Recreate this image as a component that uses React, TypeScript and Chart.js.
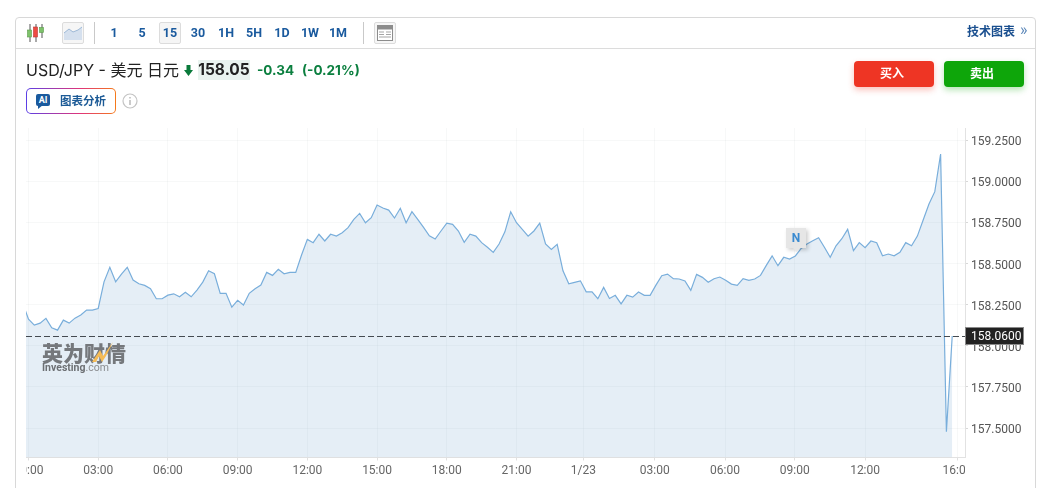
import React, { useEffect, useRef } from "react";
import { Chart, registerables } from "chart.js";

Chart.register(...registerables);

const closes = [
  158.26, 158.162, 158.126, 158.138, 158.167, 158.109, 158.095, 158.156, 158.138, 158.168,
  158.187, 158.217, 158.217, 158.227, 158.389, 158.477, 158.389, 158.436, 158.477, 158.4,
  158.377, 158.367, 158.347, 158.286, 158.286, 158.308, 158.316, 158.298, 158.325, 158.298,
  158.339, 158.387, 158.456, 158.438, 158.319, 158.319, 158.235, 158.276, 158.248, 158.319,
  158.347, 158.369, 158.446, 158.428, 158.465, 158.438, 158.446, 158.446, 158.552, 158.647,
  158.627, 158.678, 158.637, 158.678, 158.667, 158.687, 158.718, 158.769, 158.805, 158.748,
  158.779, 158.856, 158.838, 158.825, 158.777, 158.836, 158.748, 158.815, 158.769, 158.72,
  158.669, 158.649, 158.698, 158.746, 158.738, 158.698, 158.629, 158.678, 158.667, 158.627,
  158.599, 158.568, 158.619, 158.693, 158.815, 158.748, 158.708, 158.667, 158.698, 158.746,
  158.619, 158.586, 158.617, 158.456, 158.377, 158.386, 158.395, 158.328, 158.328, 158.286,
  158.355, 158.288, 158.307, 158.255, 158.307, 158.296, 158.327, 158.307, 158.307, 158.369,
  158.426, 158.436, 158.408, 158.406, 158.394, 158.337, 158.434, 158.416, 158.386, 158.408,
  158.418, 158.398, 158.375, 158.367, 158.408, 158.398, 158.406, 158.428, 158.489, 158.547,
  158.487, 158.538, 158.527, 158.546, 158.592, 158.619, 158.639, 158.657, 158.599, 158.538,
  158.608, 158.651, 158.708, 158.578, 158.627, 158.596, 158.637, 158.627, 158.547, 158.558,
  158.547, 158.568, 158.627, 158.608, 158.667, 158.765, 158.862, 158.937, 159.166, 157.477,
  158.06,
];
const firstSlot = -1;
const timeLabels = ["00:00", "03:00", "06:00", "09:00", "12:00", "15:00", "18:00", "21:00", "1/23", "03:00", "06:00", "09:00", "12:00", "16:00"];
const timeSlots = [0, 12, 24, 36, 48, 60, 72, 84, 95.5, 107.8, 119.9, 131.9, 144, 159.9];
const priceTicks = [157.5, 157.75, 158, 158.25, 158.5, 158.75, 159, 159.25];
const lastPrice = 158.06;
const intervals = ["1", "5", "15", "30", "1H", "5H", "1D", "1W", "1M"];

const FONT = "Roboto, sans-serif";
const UI = "Inter, 'Noto Sans CJK SC', sans-serif";
const BLUE = "#1a5a9e";

const overlayPlugin = {
  id: "overlay",
  afterDraw(chart: any) {
    const { ctx, chartArea, scales } = chart;
    const y = scales.y.getPixelForValue(lastPrice);
    ctx.save();
    ctx.fillStyle = "#ffffff";
    ctx.fillRect(0, chartArea.bottom + 4, chartArea.left, 28);
    ctx.fillRect(chartArea.right, chartArea.bottom + 4, 60, 28);
    ctx.strokeStyle = "#444a50";
    ctx.lineWidth = 1;
    ctx.setLineDash([6, 3]);
    ctx.beginPath();
    ctx.moveTo(chartArea.left, Math.round(y) + 0.5);
    ctx.lineTo(chartArea.right + 2, Math.round(y) + 0.5);
    ctx.stroke();
    ctx.setLineDash([]);
    ctx.fillStyle = "#222222";
    ctx.fillRect(chartArea.right, Math.round(y) - 9, 59, 18);
    ctx.strokeStyle = "#8a8a8a";
    ctx.strokeRect(chartArea.right + 0.5, Math.round(y) - 8.5, 58, 17);
    ctx.fillStyle = "#ffffff";
    ctx.font = `12px ${FONT}`;
    ctx.textBaseline = "middle";
    ctx.textAlign = "left";
    ctx.fillText(lastPrice.toFixed(4), chartArea.right + 6, Math.round(y) + 1);
    ctx.restore();
  },
};

const abs = (left: number, top: number, extra: any = {}) => ({ position: "absolute", left, top, ...extra });

function Button({ left, children, active }: any) {
  return (
    <div
      style={abs(left, 22, {
        width: 22,
        height: 22,
        boxSizing: "border-box",
        background: active ? "#f5f5f5" : "#f6f6f6",
        border: "1px solid #dcdcdc",
        borderRadius: 2,
        display: "flex",
        alignItems: "center",
        justifyContent: "center",
        paddingBottom: active ? 2 : 0,
        font: `700 12.5px ${FONT}`,
        color: BLUE,
      })}
    >
      {children}
    </div>
  );
}

export default function App() {
  const ref = useRef<HTMLCanvasElement>(null);

  useEffect(() => {
    const chart = new Chart(ref.current as HTMLCanvasElement, {
      type: "line",
      plugins: [overlayPlugin],
      data: {
        datasets: [
          {
            data: closes.map((y, i) => ({ x: firstSlot + i, y })),
            borderColor: "#79aedb",
            borderWidth: 1.2,
            backgroundColor: "rgba(124,170,210,0.2)",
            fill: "start",
            pointRadius: 0,
            tension: 0,
          },
        ],
      },
      options: {
        responsive: false,
        animation: false,
        events: [],
        layout: { padding: { top: 128, left: 26, right: 0, bottom: 0 } },
        plugins: { legend: { display: false }, tooltip: { enabled: false } },
        scales: {
          x: {
            type: "linear",
            min: -0.43,
            max: 161.2,
            afterBuildTicks(scale: any) {
              scale.ticks = timeSlots.map((value) => ({ value }));
            },
            afterFit(scale: any) {
              scale.height = 488 - 457.5;
            },
            grid: { color: "rgba(120,130,140,0.06)", tickLength: 3, tickColor: "#e0e0e0" },
            border: { color: "#e2e2e2" },
            ticks: {
              autoSkip: false,
              maxRotation: 0,
              padding: 3,
              color: "#666666",
              font: { family: "Roboto", size: 12 },
              callback: (value: any) => timeLabels[timeSlots.indexOf(value)] ?? "",
            },
          },
          y: {
            type: "linear",
            position: "right",
            min: 157.321,
            max: 159.324,
            afterBuildTicks(scale: any) {
              scale.ticks = priceTicks.map((value) => ({ value }));
            },
            afterFit(scale: any) {
              scale.width = 1047 - 965;
            },
            afterUpdate(scale: any) {
              const original = scale.getLabelItems.bind(scale);
              scale.getLabelItems = (area: any) =>
                original(area).map((item: any) => ({
                  ...item,
                  options: { ...item.options, translation: [item.options.translation[0], item.options.translation[1] + 1] },
                }));
            },
            grid: { color: "rgba(120,130,140,0.06)", tickLength: 3, tickColor: "#d8d8d8" },
            border: { color: "#e2e2e2" },
            ticks: {
              padding: 3,
              color: "#555555",
              font: { family: "Roboto", size: 12 },
              callback: (value: any) => Number(value).toFixed(4),
            },
          },
        },
      },
    } as any);
    return () => chart.destroy();
  }, []);

  return (
    <div style={{ position: "fixed", left: 0, top: 0, width: 1047, height: 488, overflow: "hidden", background: "#fff" } as any}>
      <canvas ref={ref} width={1047} height={488} style={abs(0, 0, { display: "block" })} />

      {/* card frame */}
      <div style={abs(15, 17, { width: 1021, height: 480, boxSizing: "border-box", border: "1px solid #d8d8d8", borderRadius: 4, pointerEvents: "none" })} />
      <div style={abs(16, 48, { width: 1019, height: 1, background: "#dcdcdc" })} />

      {/* toolbar */}
      <svg style={abs(26, 23)} width="20" height="20" viewBox="0 0 20 20">
        <path d="M4 1V19M10 1V19M16 1V15" stroke="#555" strokeWidth="1" />
        <rect x="1.5" y="7" width="4" height="7" fill="#7ec26b" stroke="#5a9a4a" strokeWidth="0.6" />
        <rect x="7.5" y="4" width="4" height="10" fill="#ee4b43" stroke="#b93a33" strokeWidth="0.6" />
        <rect x="13.5" y="4.5" width="4" height="5" fill="#7ec26b" stroke="#5a9a4a" strokeWidth="0.6" />
      </svg>
      <Button left={62}>
        <svg width="18" height="14" viewBox="0 0 18 14">
          <path d="M0 7L5 3L9 6L14 4L18 1V14H0Z" fill="#d5e0ee" />
          <path d="M0 7L5 3L9 6L14 4L18 1" fill="none" stroke="#9db8d6" strokeWidth="1" />
        </svg>
      </Button>
      <div style={abs(94, 22, { width: 1, height: 22, background: "#c9c9c9" })} />
      {intervals.map((t, i) =>
        t === "15" ? (
          <Button key={t} left={159} active>
            {t}
          </Button>
        ) : (
          <div
            key={t + i}
            style={abs(100 + i * 28, 22, {
              width: 28,
              height: 22,
              textAlign: "center",
              font: `700 12.5px/22px ${FONT}`,
              color: BLUE,
            })}
          >
            {t}
          </div>
        )
      )}
      <div style={abs(363, 22, { width: 1, height: 22, background: "#c9c9c9" })} />
      <Button left={374}>
        <svg width="16" height="16" viewBox="0 0 16 16">
          <rect x="0.5" y="0.5" width="15" height="15" fill="#fff" stroke="#8c8c8c" />
          <rect x="1" y="1" width="14" height="3.5" fill="#8c8c8c" />
          <path d="M2 7H7M2 9.5H7M2 12H14M9 7H14M9 9.5H14" stroke="#a5a5a5" strokeWidth="1.2" />
        </svg>
      </Button>
      <div style={abs(967, 24, { font: `700 12px/16px ${UI}`, color: "#1a4f8f", whiteSpace: "nowrap" })}>技术图表</div>
      <div style={abs(1020, 22, { font: `400 16px/16px ${FONT}`, color: "#5a86b8" })}>»</div>

      {/* title row */}
      <div style={abs(26, 60, { font: `400 16px/20px ${UI}`, color: "#222", whiteSpace: "nowrap" })}>USD/JPY - 美元 日元</div>
      <svg style={abs(184, 65)} width="9" height="11" viewBox="0 0 9 11">
        <path d="M2.5 0H6.5V5H9L4.5 11L0 5H2.5Z" fill="#0a7a3b" />
      </svg>
      <div style={abs(198, 60, { width: 52, height: 20, background: "#e9f3ef", textAlign: "center", font: `700 15.5px/20px ${UI}`, color: "#222", whiteSpace: "nowrap" })}>158.05</div>
      <div style={abs(257, 60, { font: `700 13.5px/20px ${UI}`, color: "#0b7f3f", whiteSpace: "nowrap" })}>-0.34</div>
      <div style={abs(302, 60, { font: `700 13.5px/20px ${UI}`, color: "#0b7f3f", whiteSpace: "nowrap" })}>(-0.21%)</div>

      {/* AI button */}
      <div
        style={abs(26, 88, {
          width: 90,
          height: 26,
          boxSizing: "border-box",
          border: "1px solid transparent",
          borderRadius: 5,
          background: "linear-gradient(#fff,#fff) padding-box, linear-gradient(90deg,#5b3fe6,#e0357a 60%,#f57a1a) border-box",
        })}
      />
      <div style={abs(36, 94, { width: 14, height: 12, background: "#1a5a9e", borderRadius: 2, color: "#fff", font: `700 9px/12px ${FONT}`, textAlign: "center" })}>AI</div>
      <svg style={abs(38, 105)} width="5" height="4" viewBox="0 0 5 4">
        <path d="M0 0H5L0 4Z" fill="#1a5a9e" />
      </svg>
      <div style={abs(60, 93, { font: `700 11.5px/16px ${UI}`, color: "#1c5a96", whiteSpace: "nowrap" })}>图表分析</div>
      <svg style={abs(122, 93)} width="16" height="16" viewBox="0 0 16 16">
        <circle cx="8" cy="8" r="7" fill="none" stroke="#c4c4c4" strokeWidth="1.2" />
        <path d="M8 7V12M8 4V5.6" stroke="#b5b5b5" strokeWidth="1.4" />
      </svg>

      {/* buy / sell */}
      <div style={abs(854, 61, { width: 80, height: 26, boxSizing: "border-box", paddingRight: 4, borderRadius: 4, background: "#ee3524", boxShadow: "0 3px 6px rgba(238,53,36,0.3)", textAlign: "center", font: `700 12px/26px ${UI}`, color: "#fff" })}>买入</div>
      <div style={abs(944, 61, { width: 80, height: 26, boxSizing: "border-box", paddingRight: 4, borderRadius: 4, background: "#0ea60a", boxShadow: "0 3px 6px rgba(14,166,10,0.3)", textAlign: "center", font: `700 12px/26px ${UI}`, color: "#fff" })}>卖出</div>

      {/* news marker */}
      <div style={abs(786, 228, { width: 20, height: 20, background: "#e6e6e6", boxShadow: "2px 2px 4px rgba(0,0,0,0.2)", textAlign: "center", font: `700 12px/20px ${FONT}`, color: "#3a8ad0" })}>N</div>
      <svg style={abs(793, 248)} width="7" height="4" viewBox="0 0 7 4">
        <path d="M0 0H7L3.5 4Z" fill="#e6e6e6" />
      </svg>

      {/* watermark */}
      <div style={abs(42, 341, { font: `900 21px/23px 'Noto Sans CJK SC', sans-serif`, color: "#75787c", whiteSpace: "nowrap" })}>英为财情</div>
      <svg style={abs(92, 342)} width="26" height="20" viewBox="0 0 26 20">
        <path d="M0 20L8 8L11 14L21 0L14 14L10 20L7 14L4 20Z" fill="#f5bb55" />
      </svg>
      <div style={abs(42, 361, { font: `700 10.5px/14px ${FONT}`, color: "#6d7074", whiteSpace: "nowrap" })}>
        Investing<span style={{ fontWeight: 400, color: "#8a8d90" }}>.com</span>
      </div>
    </div>
  );
}
